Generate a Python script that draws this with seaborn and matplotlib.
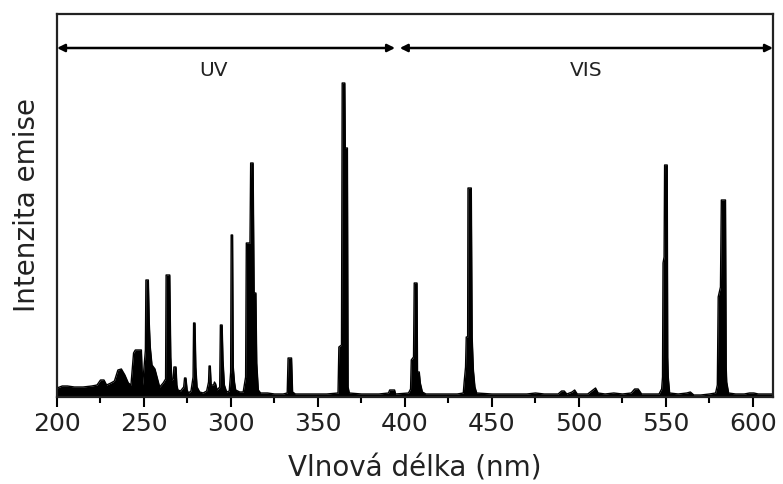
import matplotlib
matplotlib.use("Agg")
import matplotlib.pyplot as plt
import numpy as np
import pandas as pd
import seaborn as sns

# Obrys spektra: vlnová délka (nm) a intenzita (lib. jednotky)
wavelength = [
    200.0, 203, 206, 210, 215, 220, 223, 225, 227, 228.5, 231, 233, 235, 237, 239, 241,
    242.5, 244, 245, 248.5, 249.2, 250, 250.8, 251.1, 252.5, 253, 253.6, 254.6, 256.3,
    257.5, 259, 261, 262.4, 262.7, 264.8, 265.4, 266, 266.8, 267.2, 268.4, 268.9, 269.5,
    271, 272.8, 273.3, 274.1, 274.8, 275.6, 277, 278.2, 278.5, 279.3, 279.8, 280.5, 282,
    284, 286, 287.1, 287.4, 288.1, 288.6, 290, 290.5, 291.2, 292, 293.5, 293.9, 294.9,
    295.4, 296.2, 297.5, 299, 299.8, 300.1, 300.9, 301.3, 302, 302.7, 305, 307, 308.4,
    308.8, 310.9, 311.3, 312.7, 313.3, 314.3, 314.8, 315.7, 317, 321, 325, 330, 332.3,
    332.8, 334.8, 335.4, 337, 345, 355, 361.5, 362, 363.5, 363.9, 365.4, 365.7, 366.9,
    367.3, 368, 375, 385, 390.5, 391.2, 394, 394.6, 402, 403.2, 403.6, 404.9, 405.3,
    406.9, 407.2, 408.2, 408.8, 410, 412, 420, 430, 433.5, 434, 434.8, 435.2, 436,
    436.2, 438.1, 438.6, 439.3, 440.2, 441.2, 450, 460, 470, 475, 480, 488, 490, 491.5,
    493, 496, 497.5, 499, 505, 508, 509.5, 511, 515, 520, 525, 530, 532, 534, 536, 540,
    546, 547.5, 548, 548.3, 548.9, 549.2, 550.7, 551.0, 551.3, 552.1, 557, 562, 564,
    566, 570, 575, 578.5, 579.5, 580, 581.3, 581.8, 584.2, 584.6, 584.9, 586, 590, 595,
    598, 600.5, 603, 611.5,
]
intensity = [
    9, 11, 11, 10, 10, 11, 12, 17, 17, 12, 14, 16, 27, 28, 22, 14,
    12, 44, 47, 47, 12, 30, 47, 117, 117, 75, 50, 32, 28,
    20, 10, 14, 18, 122, 122, 40, 17, 18, 30, 30, 12, 7,
    6, 10, 19, 19, 7, 4, 6, 20, 74, 74, 30, 10, 5,
    4, 6, 15, 31, 31, 12, 12, 15, 13, 7, 10, 72, 72,
    37, 12, 5, 6, 25, 162, 162, 30, 15, 7, 5, 5, 20,
    154, 154, 234, 234, 104, 104, 34, 7, 4, 4, 3, 3, 4,
    39, 39, 5, 3, 3, 3, 4, 50, 52, 314, 314, 249, 249,
    10, 4, 3, 3, 4, 7, 7, 3, 4, 8, 37, 40, 114,
    114, 25, 25, 14, 5, 3, 3, 3, 4, 15, 30, 60, 60,
    209, 209, 60, 27, 10, 4, 3, 3, 3, 4, 3, 3, 6, 6,
    3, 5, 7, 3, 3, 7, 9, 4, 3, 4, 3, 4, 8, 8, 3, 3,
    3, 8, 20, 134, 140, 232, 232, 40, 20, 4, 3, 4, 5,
    2, 2, 3, 4, 12, 100, 110, 197, 197, 30, 15, 4, 3, 3,
    4, 4, 3, 3,
]

x_ticks = [200, 250, 300, 350, 400, 450, 500, 550, 600]
regions = ["UV", "VIS"]
region_bounds = [(200, 394.3), (397, 611.5)]

spectrum = pd.DataFrame({"nm": wavelength, "I": intensity})

sns.set_theme(style="ticks")
plt.rcParams["font.family"] = ["DejaVu Sans"]

fig = plt.figure(figsize=(7.83, 4.84), dpi=100)
ax = fig.add_axes([57 / 783, 87 / 484, 716 / 783, 383 / 484])

ax.fill_between(spectrum["nm"], 0, spectrum["I"], color="black", linewidth=0)
sns.lineplot(data=spectrum, x="nm", y="I", color="black", linewidth=1.0,
             estimator=None, sort=False, ax=ax)

ax.set_xlim(200, 611.5)
ax.set_ylim(0, 383)
ax.set_xticks(x_ticks)
ax.set_xticks(np.arange(225, 611, 50), minor=True)
ax.set_yticks([])
ax.tick_params(axis="x", which="major", length=7, width=1.5, labelsize=18,
               color="black", labelcolor="#222222", pad=4)
ax.tick_params(axis="x", which="minor", length=4, width=1.5, color="black")
for side in ["left", "right", "top", "bottom"]:
    ax.spines[side].set_visible(True)
    ax.spines[side].set_linewidth(1.6)
    ax.spines[side].set_color("#222222")

ax.set_xlabel("Vlnová délka (nm)", fontsize=20, color="#222222")
ax.set_ylabel("Intenzita emise", fontsize=20, color="#222222")
ax.xaxis.set_label_coords(0.5, -0.15)
ax.yaxis.set_label_coords(-0.023, 0.5)

# Šipky oblastí UV a VIS
arrow_y = 349
for name, (x0, x1) in zip(regions, region_bounds):
    ax.annotate("", xy=(x0, arrow_y), xytext=(x1, arrow_y),
                arrowprops=dict(arrowstyle="<|-|>", color="black", lw=1.8,
                                mutation_scale=11, shrinkA=0, shrinkB=0))
    ax.text((x0 + x1) / 2 - (7 if name == "UV" else 0), 326, name, ha="center",
            va="center", fontsize=14.5, color="#222222")

fig.savefig("out.png", dpi=100)
